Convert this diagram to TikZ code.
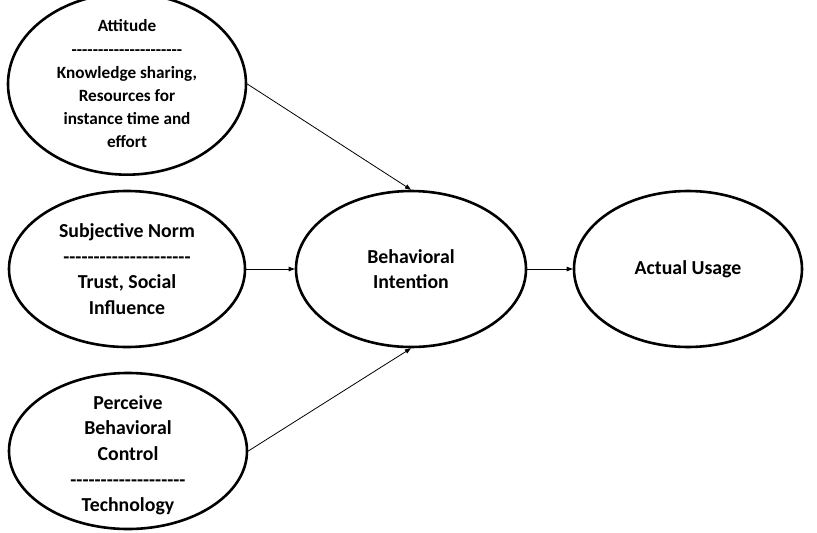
\documentclass[tikz,border=0pt]{standalone}
\usepackage{fontspec}
\setmainfont{Carlito}[Ligatures=TeXOff]
\usetikzlibrary{shapes.geometric,arrows.meta}
\begin{document}
\begin{tikzpicture}[x=1pt,y=-1pt,
  oval/.style={ellipse,draw,line width=2.6pt,inner sep=0pt,align=center,
    minimum height=156pt,font=\fontsize{19.8}{25.7}\selectfont\bfseries},
  small/.style={font=\fontsize{17.2}{23.2}\selectfont\bfseries},
  link/.style={line width=0.8pt,-{Triangle[length=6pt,width=4.5pt]}}]
\useasboundingbox (0,0) rectangle (817,533);
\node[oval,small,minimum width=238pt] (att) at (127,84)
  {Attitude\\---------------------\\Knowledge sharing,\\Resources for\\instance time and\\effort};
\node[oval,minimum width=236pt] (sn) at (127,269)
  {Subjective Norm\\---------------------\\Trust, Social\\Influence};
\node[oval,minimum width=238pt] (pbc) at (128,451)
  {\raisebox{42pt}[0pt][0pt]{\begin{tabular}[t]{@{}c@{}}Perceive\\Behavioral\\Control\\-------------------\\Technology\end{tabular}}};
\node[oval,minimum width=230pt] (bi) at (411,269)
  {Behavioral\\Intention};
\node[oval,minimum width=228pt] (au) at (688,269)
  {Actual Usage};
\draw[link] (att.east) -- (bi.north);
\draw[link] (sn) -- (bi);
\draw[link] (pbc.east) -- (bi.south);
\draw[link] (bi) -- (au);
\end{tikzpicture}
\end{document}
